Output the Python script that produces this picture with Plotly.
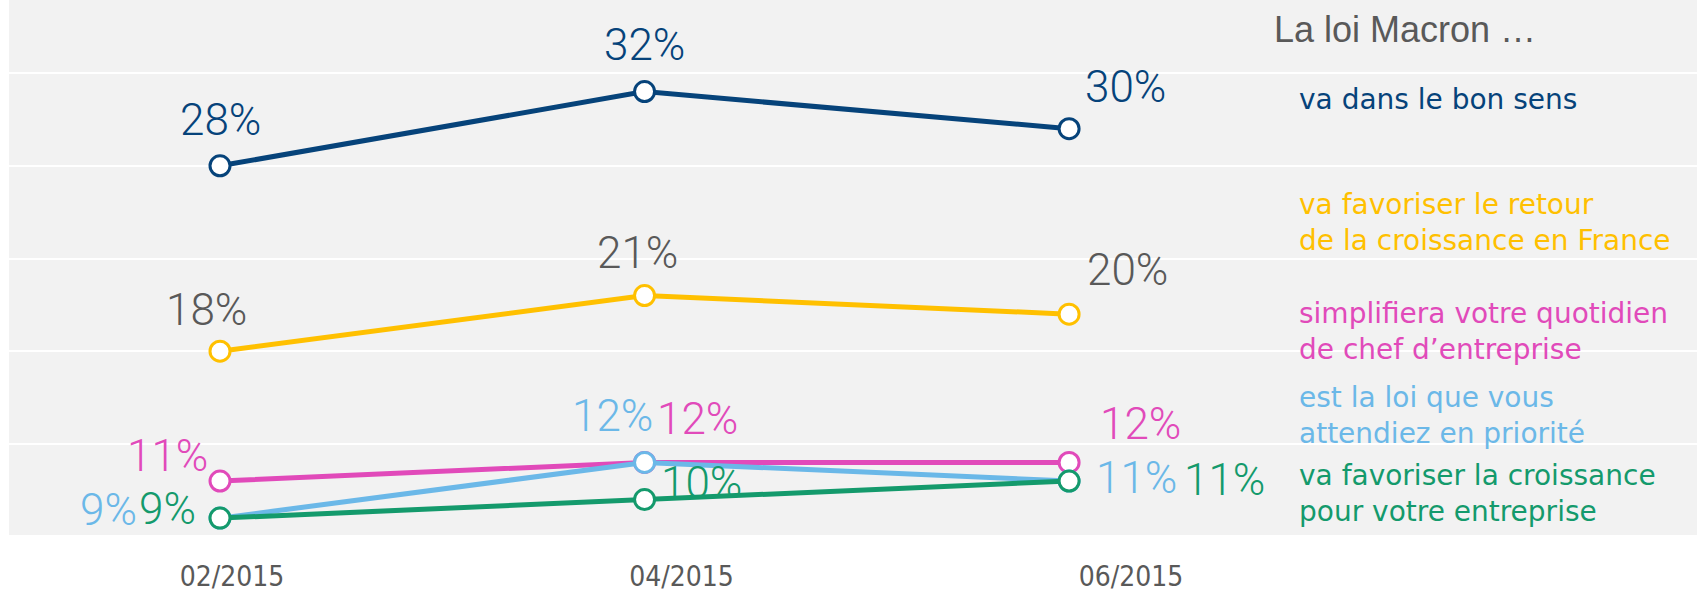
import plotly.graph_objects as go

# Survey waves and results (%)
months = ["02/2015", "04/2015", "06/2015"]
bon_sens = [28, 32, 30]
croissance_france = [18, 21, 20]
quotidien = [11, 12, 12]
priorite = [9, 12, 11]
croissance_entreprise = [9, 10, 11]

labels = [
    "va dans le bon sens",
    "va favoriser le retour<br>de la croissance en France",
    "simplifiera votre quotidien<br>de chef d’entreprise",
    "est la loi que vous<br>attendiez en priorité",
    "va favoriser la croissance<br>pour votre entreprise",
]
title_text = "La loi Macron …"

W, H = 1699, 593
L, R, T, B = 9, 2, 0, 56
PW, PH = W - L - R, H - T - B

def xp(px):
    return (px - L) / PW

def yp(py):
    return 1 - (py - T) / PH

GREY = "#595959"
NUM_FONT = "Roboto, DejaVu Sans Condensed, sans-serif"

series = [
    dict(y=bon_sens, color="#06437A", text_color="#06437A",
         shifts=[(0, 46), (0, 47), (56, 42)], label_y=100),
    dict(y=croissance_france, color="#FFC000", text_color=GREY,
         shifts=[(-14, 41), (-7, 43), (58, 44)], label_y=223),
    dict(y=quotidien, color="#E14ABA", text_color="#E14ABA",
         shifts=[(-53, 25), (53, 43), (71, 38)], label_y=333),
    dict(y=priorite, color="#6BB8E8", text_color="#6BB8E8",
         shifts=[(-112, 8), (-32, 46), (67, 3)], label_y=417),
    dict(y=croissance_entreprise, color="#149A6C", text_color="#149A6C",
         shifts=[(-53, 9), (57, 17), (155, 1)], label_y=495),
]

fig = go.Figure()
annotations = []

for s, name in zip(series, labels):
    fig.add_trace(go.Scatter(
        x=months, y=s["y"], mode="lines+markers",
        name=name.replace("<br>", " "),
        line=dict(color=s["color"], width=5),
        marker=dict(size=20, color="white", line=dict(color=s["color"], width=3)),
        showlegend=False,
    ))
    for m, v, (dx, dy) in zip(months, s["y"], s["shifts"]):
        annotations.append(dict(
            x=m, y=v, xref="x", yref="y", text=f"{v}%", showarrow=False,
            xanchor="center", yanchor="middle", xshift=dx, yshift=dy,
            font=dict(family=NUM_FONT, size=44, weight=300, color=s["text_color"]),
        ))
    annotations.append(dict(
        x=xp(1297), y=yp(s["label_y"]), xref="paper", yref="paper",
        text=name, showarrow=False, align="left",
        xanchor="left", yanchor="middle",
        font=dict(family="DejaVu Sans, Verdana, sans-serif", size=28, color=s["color"]),
    ))

annotations.append(dict(
    x=xp(1272), y=yp(30), xref="paper", yref="paper", text=title_text,
    showarrow=False, xanchor="left", yanchor="middle",
    font=dict(family="Liberation Sans, Arial, sans-serif", size=36, color=GREY),
))

# invisible trace carrying the month axis labels
fig.add_trace(go.Scatter(
    x=months, y=[None] * len(months), xaxis="x2", mode="markers",
    showlegend=False, hoverinfo="skip",
))

fig.update_layout(
    width=W, height=H,
    margin=dict(l=L, r=R, t=T, b=B),
    paper_bgcolor="white",
    plot_bgcolor="#F2F2F2",
    annotations=annotations,
    hovermode=False,
    xaxis=dict(type="category", categoryarray=months, range=[-0.497, 3.479],
               showticklabels=False, showgrid=False, zeroline=False),
    xaxis2=dict(type="category", categoryarray=months, range=[-0.496, 3.259],
                overlaying="x", side="bottom", anchor="y",
                showgrid=False, zeroline=False, ticks="",
                ticklabelstandoff=22,
                tickfont=dict(family="DejaVu Sans Condensed, DejaVu Sans, sans-serif",
                              size=28, color=GREY)),
    yaxis=dict(range=[8.09, 36.94], tick0=3, dtick=5, showticklabels=False,
               gridcolor="white", gridwidth=2, zeroline=False),
)

fig.write_html("out.html", config={"displayModeBar": False},
               post_script="document.body.style.margin='0';")
